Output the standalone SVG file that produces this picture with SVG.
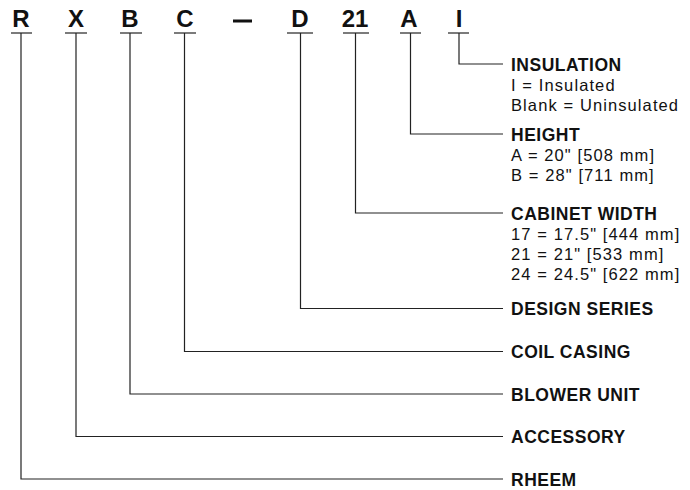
<svg xmlns="http://www.w3.org/2000/svg" width="690" height="490" viewBox="0 0 690 490">
<style>
.code{font-family:"Liberation Sans",Arial,sans-serif;font-weight:bold;font-size:24px;fill:#111;text-anchor:middle}
.hd{font-family:"Liberation Sans",Arial,sans-serif;font-weight:bold;font-size:17.5px;letter-spacing:0.5px;fill:#111}
.sub{font-family:"Liberation Sans",Arial,sans-serif;font-size:16.5px;letter-spacing:1.1px;fill:#111}
.ln{fill:none;stroke:#222;stroke-width:1.2}
.ul{stroke:#222;stroke-width:1.2}
</style>
<rect width="690" height="490" fill="#fff"/>
<g id="code">
<text class="code" x="21" y="27">R</text>
<text class="code" x="76" y="27">X</text>
<text class="code" x="130" y="27">B</text>
<text class="code" x="185" y="27">C</text>
<rect x="233" y="19.5" width="19" height="3" fill="#111"/>
<text class="code" x="300" y="27">D</text>
<text class="code" x="355" y="27">21</text>
<text class="code" x="409" y="27">A</text>
<text class="code" x="459" y="27">I</text>
<line class="ul" x1="11" y1="33" x2="32" y2="33"/>
<line class="ul" x1="65" y1="33" x2="87" y2="33"/>
<line class="ul" x1="120" y1="33" x2="142" y2="33"/>
<line class="ul" x1="174" y1="33" x2="196" y2="33"/>
<line class="ul" x1="287" y1="33" x2="313" y2="33"/>
<line class="ul" x1="343" y1="33" x2="369" y2="33"/>
<line class="ul" x1="400" y1="33" x2="421" y2="33"/>
<line class="ul" x1="448" y1="33" x2="469" y2="33"/>
</g>
<g id="connectors">
<path class="ln" d="M459 33V64H503"/>
<path class="ln" d="M410.5 33V134H503"/>
<path class="ln" d="M355.5 33V213H503"/>
<path class="ln" d="M300.5 33V308.5H503"/>
<path class="ln" d="M184.5 33V351.5H503"/>
<path class="ln" d="M130 33V394H503"/>
<path class="ln" d="M76 33V436.5H503"/>
<path class="ln" d="M21 33V479H503"/>
</g>
<g id="insulation">
<text class="hd" x="511" y="70.5">INSULATION</text>
<text class="sub" x="511" y="91">I = Insulated</text>
<text class="sub" x="511" y="111">Blank = Uninsulated</text>
</g>
<g id="height">
<text class="hd" x="511" y="140.5">HEIGHT</text>
<text class="sub" x="511" y="161">A = 20" [508 mm]</text>
<text class="sub" x="511" y="181">B = 28" [711 mm]</text>
</g>
<g id="cabinet-width">
<text class="hd" x="511" y="219.5">CABINET WIDTH</text>
<text class="sub" x="511" y="240">17 = 17.5" [444 mm]</text>
<text class="sub" x="511" y="260">21 = 21" [533 mm]</text>
<text class="sub" x="511" y="280">24 = 24.5" [622 mm]</text>
</g>
<g id="design-series"><text class="hd" x="511" y="315">DESIGN SERIES</text></g>
<g id="coil-casing"><text class="hd" x="511" y="358">COIL CASING</text></g>
<g id="blower-unit"><text class="hd" x="511" y="400.5">BLOWER UNIT</text></g>
<g id="accessory"><text class="hd" x="511" y="443">ACCESSORY</text></g>
<g id="rheem"><text class="hd" x="511" y="485.5">RHEEM</text></g>
</svg>
